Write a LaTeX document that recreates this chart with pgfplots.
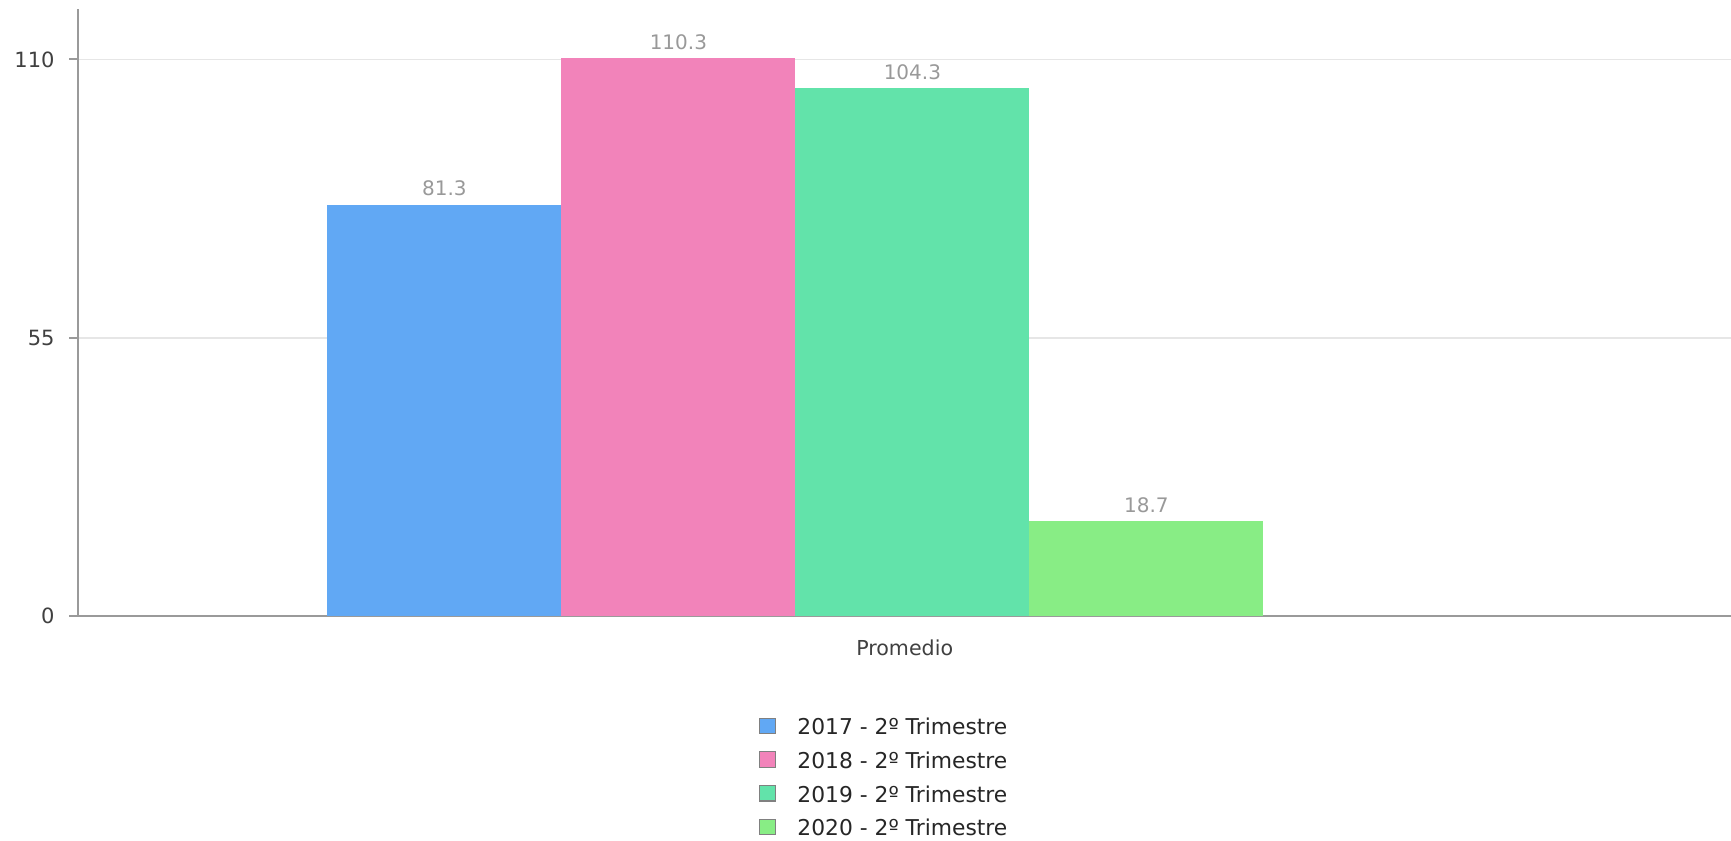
\documentclass[border=0pt]{standalone}
\usepackage{pgfplots}
\pgfplotsset{compat=1.18}
\usepackage{fontspec}
\setmainfont{DejaVu Sans}
\definecolor{c1}{HTML}{61A8F4}
\definecolor{c2}{HTML}{F283BA}
\definecolor{c3}{HTML}{62E3AA}
\definecolor{c4}{HTML}{88ED85}
\definecolor{axisgray}{HTML}{9A9A9A}
\definecolor{gridgray}{HTML}{E6E6E6}
\definecolor{labgray}{HTML}{999999}
\definecolor{ticktext}{HTML}{404040}
\pgfplotsset{
  mylegend/.style={legend image code/.code={
    \draw[##1, draw=black!50, line width=0.6pt] (0pt,-3.5pt) rectangle (8pt,4.3pt);
    \path (19pt,0pt);
  }},
}
\begin{document}
\begin{tikzpicture}
\path[use as bounding box] (-39.2pt,-112.5pt) rectangle (826.3pt,308pt);
\begin{axis}[
  at={(0,0)}, anchor=south west,
  scale only axis, width=826.3pt, height=303.6pt,
  xmin=-1, xmax=1, ymin=0, ymax=120,
  axis lines=left,
  axis line style={-, draw=axisgray, line width=0.9pt},
  ytick={0,55,110},
  xtick={0}, xticklabels={Promedio},
  x tick style={draw=none},
  y tick style={draw=axisgray, line width=0.9pt},
  major tick length=4.5pt,
  tick align=outside,
  ymajorgrids, grid style={draw=gridgray, line width=0.8pt},
  /pgf/number format/assume math mode=true,
  yticklabel style={font=\fontsize{10.5}{12}\selectfont, color=ticktext, xshift=-3.9pt},
  xticklabel style={font=\fontsize{10.3}{12}\selectfont, color=ticktext, anchor=base, yshift=-15pt},
  nodes near coords={\pgfmathprintnumber[fixed,precision=1,fixed zerofill,assume math mode=true]{\pgfplotspointmeta}},
  every node near coord/.append style={font=\fontsize{10}{12}\selectfont, color=labgray, anchor=base, yshift=4.4pt},
  legend style={at={(0.4079,-0.160)}, anchor=north west, draw=none, fill=none,
    font=\fontsize{10.9}{12}\selectfont, text=black!85,
    nodes={inner sep=0pt, text height=7.95pt, text depth=0pt},
    row sep=8.25pt},
  legend cell align=left,
]
\addplot[ybar, bar width=0.2832, bar shift=0pt, fill=c1, draw=none, mylegend] coordinates {(-0.5571,81.3)};
\addlegendentry{2017 - 2º Trimestre}
\addplot[ybar, bar width=0.2832, bar shift=0pt, fill=c2, draw=none, mylegend] coordinates {(-0.2739,110.3)};
\addlegendentry{2018 - 2º Trimestre}
\addplot[ybar, bar width=0.2832, bar shift=0pt, fill=c3, draw=none, mylegend] coordinates {(0.0093,104.3)};
\addlegendentry{2019 - 2º Trimestre}
\addplot[ybar, bar width=0.2832, bar shift=0pt, fill=c4, draw=none, mylegend] coordinates {(0.2925,18.7)};
\addlegendentry{2020 - 2º Trimestre}
\end{axis}
\end{tikzpicture}
\end{document}
